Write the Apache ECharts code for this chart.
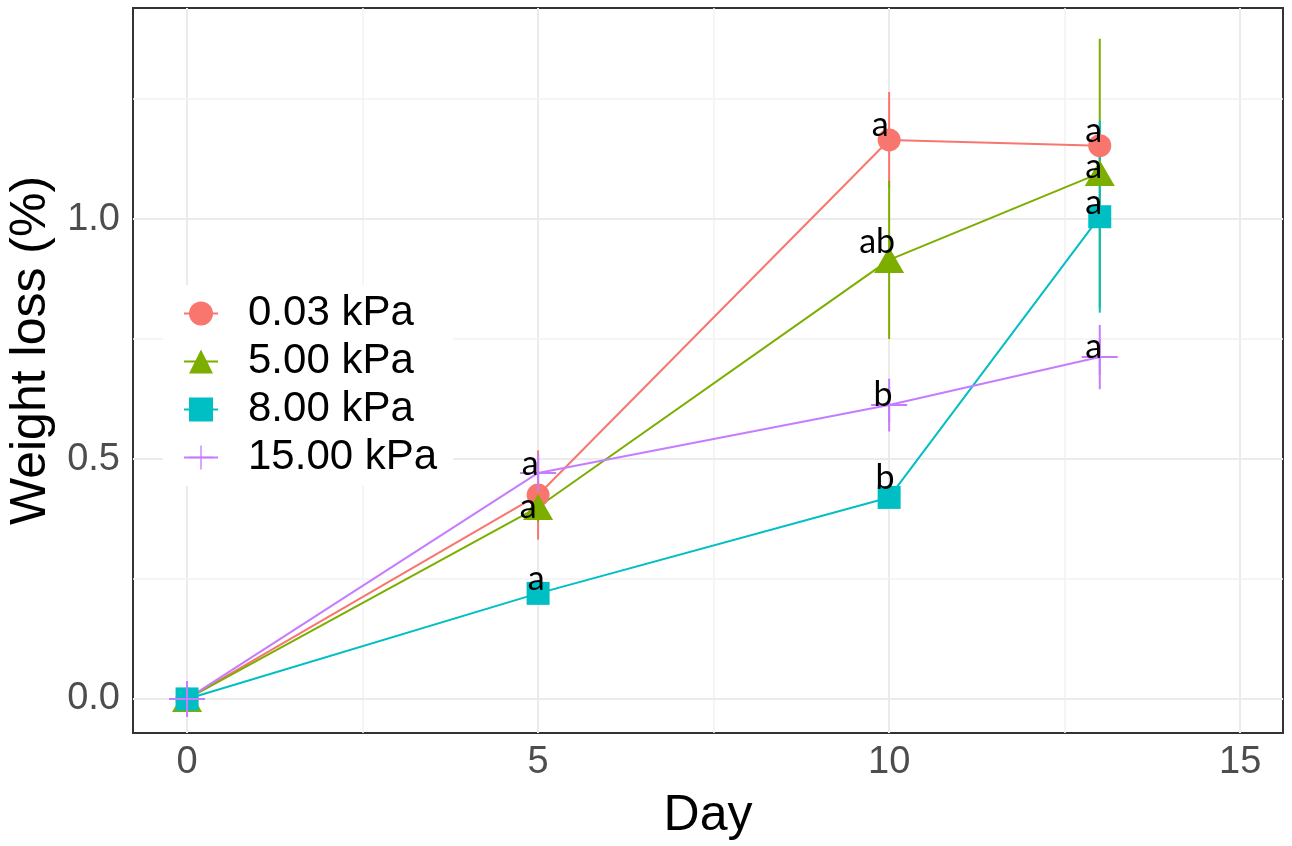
<!DOCTYPE html>
<html>
<head>
<meta charset="utf-8">
<script src="https://cdn.jsdelivr.net/npm/echarts@6/dist/echarts.min.js"></script>
<style>
  html, body { margin: 0; padding: 0; background: #fff; }
  #chart { width: 1292px; height: 846px; }
</style>
</head>
<body>
<div id="chart"></div>
<script>
// values
const days = [0, 5, 10, 13];
const seriesNames = ['0.03 kPa', '5.00 kPa', '8.00 kPa', '15.00 kPa'];

const loss003 = [0, 0.425, 1.165, 1.153];
const sd003 = [0, 0.093, 0.1, 0.03];
const loss500 = [0, 0.40, 0.915, 1.096];
const sd500 = [0, 0.03, 0.165, 0.28];
const loss800 = [0, 0.22, 0.42, 1.005];
const sd800 = [0, 0.01, 0.02, 0.2];
const loss1500 = [0, 0.471, 0.6125, 0.7125];
const sd1500 = [0, 0.04, 0.055, 0.067];

const letters003 = ['', '', 'a', 'a'];
const letters500 = ['', 'a', 'ab', 'a'];
const letters800 = ['', 'a', 'b', 'a'];
const letters1500 = ['', 'a', 'b', 'a'];

const xTicks = [0, 5, 10, 15];
const xMinor = [2.5, 7.5, 12.5];
const yTicks = [0, 0.5, 1.0];
const yMinor = [0.25, 0.75, 1.25];

// label offsets (styling only)
const offs003 = [[0, 0], [0, 0], [-9, -15], [-6, -15]];
const offs500 = [[0, 0], [-10, 0], [-12, -18], [-6, -6]];
const offs800 = [[0, 0], [-2, -14], [-4, -19], [-6, -14]];
const offs1500 = [[0, 0], [-8, -9], [-6, -10], [-6, -10]];

const colors = ['#F8766D', '#7CAE00', '#00BFC4', '#C77CFF'];
const plusPath = 'path://M17,0H19V36H17Z M0,17H36V19H0Z';
const symbols = ['circle', 'triangle', 'rect', plusPath];
const symbolSizes = [23, [30, 26], 23, 36];

const means = [loss003, loss500, loss800, loss1500];
const sds = [sd003, sd500, sd800, sd1500];
const letters = [letters003, letters500, letters800, letters1500];
const offsets = [offs003, offs500, offs800, offs1500];

const chart = echarts.init(document.getElementById('chart'));

const series = [];

// grid lines
series.push({
  type: 'scatter',
  data: [],
  silent: true,
  z: 1,
  markLine: {
    silent: true,
    z: 1,
    symbol: 'none',
    label: { show: false },
    animation: false,
    data: [
      ...xTicks.map(v => ({ xAxis: v, lineStyle: { color: '#EBEBEB', width: 2, type: 'solid' } })),
      ...xMinor.map(v => ({ xAxis: v, lineStyle: { color: '#F2F2F2', width: 1.5, type: 'solid' } })),
      ...yTicks.map(v => ({ yAxis: v, lineStyle: { color: '#EBEBEB', width: 2, type: 'solid' } })),
      ...yMinor.map(v => ({ yAxis: v, lineStyle: { color: '#F2F2F2', width: 1.5, type: 'solid' } }))
    ]
  }
});

seriesNames.forEach((name, k) => {
  series.push({
    name: name,
    type: 'line',
    z: 3,
    symbol: symbols[k],
    symbolSize: symbolSizes[k],
    itemStyle: { color: colors[k] },
    lineStyle: { color: colors[k], width: 2 },
    data: days.map((d, i) => ({
      value: [d, means[k][i]],
      label: {
        show: letters[k][i] !== '',
        position: 'inside',
        formatter: letters[k][i],
        offset: offsets[k][i],
        color: '#000',
        fontSize: 34,
        fontFamily: 'Lato',
        textBorderWidth: 0
      }
    }))
  });
  series.push({
    type: 'custom',
    z: 2,
    silent: true,
    encode: { x: 0, y: [1, 2] },
    data: days.map((d, i) => [d, means[k][i] - sds[k][i], means[k][i] + sds[k][i]]),
    renderItem: function (params, api) {
      const a = api.coord([api.value(0), api.value(1)]);
      const b = api.coord([api.value(0), api.value(2)]);
      return {
        type: 'line',
        shape: { x1: a[0], y1: a[1], x2: b[0], y2: b[1] },
        style: { stroke: colors[k], lineWidth: 2 }
      };
    }
  });
});

chart.setOption({
  animation: false,
  textStyle: { fontFamily: 'Liberation Sans' },
  grid: {
    left: 133, right: 9, top: 8, bottom: 113,
    outerBoundsMode: 'none',
    containLabel: false,
    show: true, borderColor: '#333333', borderWidth: 2, backgroundColor: '#fff'
  },
  legend: {
    data: seriesNames,
    orient: 'vertical',
    left: 163,
    top: 285,
    padding: [7, 16, 7, 20],
    backgroundColor: '#fff',
    itemWidth: 34,
    itemHeight: 30,
    itemGap: 5,
    textStyle: {
      fontSize: 42, lineHeight: 43, color: '#000',
      fontFamily: 'Liberation Sans', padding: [0, 0, 0, 25]
    }
  },
  xAxis: {
    type: 'value',
    min: -0.77,
    max: 15.61,
    name: 'Day',
    nameLocation: 'middle',
    nameGap: 58,
    nameTextStyle: { fontSize: 50, color: '#000', fontFamily: 'Liberation Sans' },
    axisLine: { show: false },
    splitLine: { show: false },
    axisTick: { show: true, length: 7, customValues: xTicks, lineStyle: { color: '#333', width: 2 } },
    axisLabel: {
      customValues: xTicks, margin: 11, fontSize: 38, color: '#4D4D4D',
      fontFamily: 'Liberation Sans'
    }
  },
  yAxis: {
    type: 'value',
    min: -0.071,
    max: 1.44,
    name: 'Weight loss (%)',
    nameLocation: 'middle',
    nameGap: 75,
    nameTextStyle: {
      fontSize: 50, color: '#000', fontFamily: 'Liberation Sans',
      padding: [0, 0, 0, 40]
    },
    axisLine: { show: false },
    splitLine: { show: false },
    axisTick: { show: true, length: 8, customValues: yTicks, lineStyle: { color: '#333', width: 2 } },
    axisLabel: {
      customValues: yTicks, margin: 13, fontSize: 38, color: '#4D4D4D',
      fontFamily: 'Liberation Sans',
      formatter: v => v.toFixed(1)
    }
  },
  series: series
});
</script>
</body>
</html>
